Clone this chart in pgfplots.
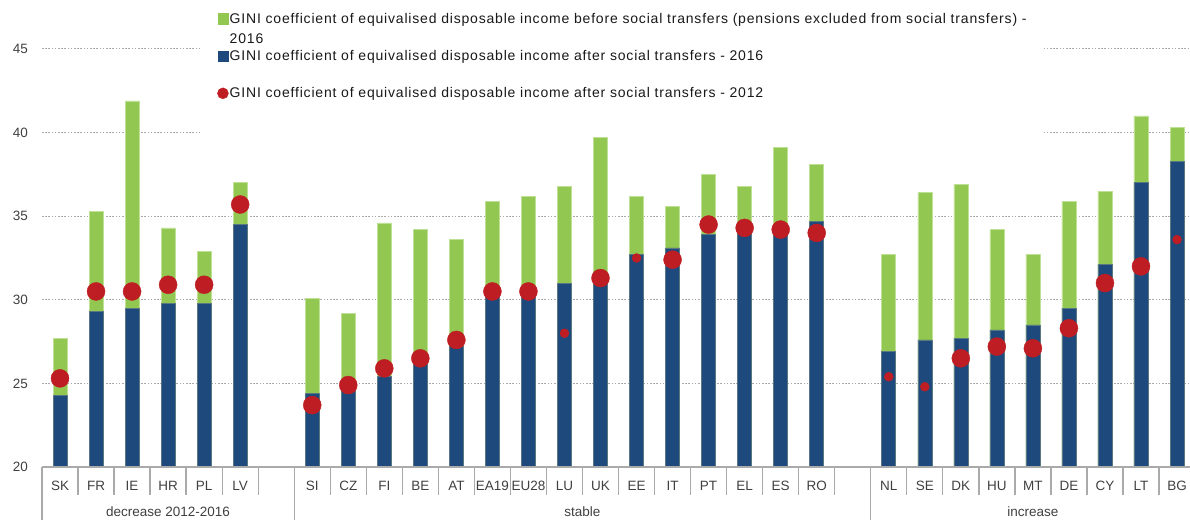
\documentclass[border=0pt]{standalone}
\usepackage{fontspec}
\setmainfont{Liberation Sans}
\newfontfamily\legfont[LetterSpace=5.8]{Liberation Sans}
\usepackage{pgfplots}
\pgfplotsset{compat=1.18}
\usepackage{pgfplotstable}
\definecolor{cgreen}{RGB}{146,200,81}
\definecolor{cgreenedge}{RGB}{190,225,150}
\definecolor{cblue}{RGB}{29,73,125}
\definecolor{cblueedge}{RGB}{90,120,130}
\definecolor{cred}{RGB}{190,30,35}
\definecolor{cgrid}{RGB}{170,170,170}
\definecolor{ctext}{RGB}{64,64,64}

\pgfplotstableread{
x green blue
0 27.7 24.3
1 35.3 29.3
2 41.9 29.5
3 34.3 29.8
4 32.9 29.8
5 37.0 34.5
7 30.1 24.4
8 29.2 24.6
9 34.6 25.4
10 34.2 26.2
11 33.6 27.2
12 35.9 30.2
13 36.2 30.3
14 36.8 31.0
15 39.7 31.0
16 36.2 32.7
17 35.6 33.1
18 37.5 33.9
19 36.8 34.1
20 39.1 34.0
21 38.1 34.7
23 32.7 26.9
24 36.4 27.6
25 36.9 27.7
26 34.2 28.2
27 32.7 28.5
28 35.9 29.5
29 36.5 32.1
30 41.0 37.0
31 40.3 38.3
}\bars

\pgfplotstableread{
x y
0 25.3
1 30.5
2 30.5
3 30.9
4 30.9
5 35.7
7 23.7
8 24.9
9 25.9
10 26.5
11 27.6
12 30.5
13 30.5
15 31.3
17 32.4
18 34.5
19 34.3
20 34.2
21 34.0
25 26.5
26 27.2
27 27.1
28 28.3
29 31.0
30 32.0
}\dotsbig

\pgfplotstableread{
x y
14 28.0
16 32.5
23 25.4
24 24.8
31 33.6
}\dotssmall

\begin{document}
\fontsize{13.5}{16}\selectfont
\begin{tikzpicture}
\useasboundingbox (0,0) rectangle (1190pt,520pt);
\begin{axis}[
  at={(42pt,53pt)}, anchor=south west,
  scale only axis, width=1148pt, height=418pt,
  xmin=-0.5, xmax=31.36, ymin=20, ymax=45,
  clip mode=individual,
  axis line style={draw=none},
  major tick length=0pt,
  ytick={20,25,30,35,40,45},
  yticklabels={20,25,30,35,40,45},
  ymajorgrids,
  grid style={draw=cgrid, line width=1pt, dash pattern=on 1.6pt off 1.6pt},
  yticklabel style={anchor=east, xshift=-14pt, inner sep=0pt, text=ctext, font=\fontsize{13.5}{16}\selectfont},
  xtick={0,1,2,3,4,5,7,8,9,10,11,12,13,14,15,16,17,18,19,20,21,23,24,25,26,27,28,29,30,31},
  xticklabels={SK,FR,IE,HR,PL,LV,SI,CZ,FI,BE,AT,EA19,EU28,LU,UK,EE,IT,PT,EL,ES,RO,NL,SE,DK,HU,MT,DE,CY,LT,BG},
  xticklabel style={anchor=base, yshift=-23pt, inner sep=0pt, text=ctext, font=\fontsize{13.5}{16}\selectfont},
  legend style={at={(0.1394,1.105)}, anchor=north west, fill=white, draw=none,
    inner xsep=15pt, inner ysep=7.7pt, row sep=0pt, column sep=1pt,
    nodes={inner sep=0pt, text height=10pt, text depth=27.3pt, anchor=base west, text=black!90,
      font=\legfont\fontsize{14}{16}\selectfont}},
  legend cell align=left,
]
\addplot[ybar, bar width=14pt, bar shift=0pt, fill=cgreen, draw=cgreenedge, line width=0.6pt,
  legend image code/.code={\fill[cgreen] (0pt,-1pt) rectangle (10pt,9.5pt);}]
  table[x=x, y=green] {\bars};
\addlegendentry{\vtop{\baselineskip=20pt\hbox{GINI coefficient of equivalised disposable income before social transfers (pensions excluded from social transfers) -}\hbox{2016}}}
\addplot[ybar, bar width=14pt, bar shift=0pt, fill=cblue, draw=cblueedge, line width=0.6pt,
  legend image code/.code={\fill[cblue] (0pt,-1pt) rectangle (10pt,9.5pt);}]
  table[x=x, y=blue] {\bars};
\addlegendentry{GINI coefficient of equivalised disposable income after social transfers - 2016}
\addplot[only marks, mark=*, mark size=9pt, mark options={fill=cred, draw=cred},
  legend image code/.code={\fill[cred] (4.5pt,4.5pt) circle (5.5pt);}]
  table[x=x, y=y] {\dotsbig};
\addlegendentry{GINI coefficient of equivalised disposable income after social transfers - 2012}
\addplot[only marks, mark=*, mark size=4.5pt, mark options={fill=cred, draw=cred}, forget plot]
  table[x=x, y=y] {\dotssmall};
% axis line and separators
\draw[draw=cgrid, line width=1.3pt] (rel axis cs:0,0) -- (rel axis cs:1,0);
\pgfplotsinvokeforeach{0.5,1.5,2.5,3.5,4.5,5.5,7.5,8.5,9.5,10.5,11.5,12.5,13.5,14.5,15.5,16.5,17.5,18.5,19.5,20.5,21.5,23.5,24.5,25.5,26.5,27.5,28.5,29.5,30.5}{
  \draw[draw=cgrid, line width=1.3pt] (axis cs:#1,20) -- ([yshift=-28pt]axis cs:#1,20);
}
\pgfplotsinvokeforeach{-0.5,6.5,22.5}{
  \draw[draw=cgrid, line width=1.3pt] (axis cs:#1,20) -- ([yshift=-53pt]axis cs:#1,20);
}
\node[anchor=base, text=ctext, inner sep=0pt] at ([yshift=-49pt]axis cs:3,20) {decrease 2012-2016};
\node[anchor=base, text=ctext, inner sep=0pt] at ([yshift=-49pt]axis cs:14.5,20) {stable};
\node[anchor=base, text=ctext, inner sep=0pt] at ([yshift=-49pt]axis cs:27,20) {increase};
\end{axis}
\end{tikzpicture}
\end{document}
